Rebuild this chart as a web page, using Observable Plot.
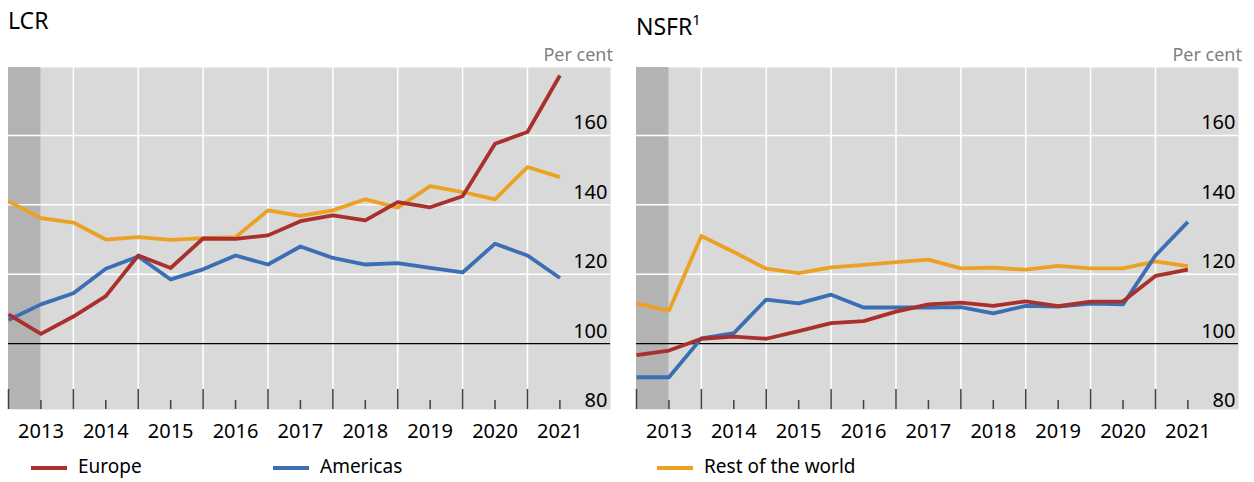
<!DOCTYPE html>
<html><head><meta charset="utf-8">
<script src="https://cdn.jsdelivr.net/npm/d3@7"></script>
<script src="https://cdn.jsdelivr.net/npm/@observablehq/plot@0.6"></script>
<style>
body{margin:0;background:#fff;font-family:"Noto Sans",sans-serif;}
#wrap{position:relative;width:1254px;height:482px;overflow:hidden;background:#fff}
.abs{position:absolute;white-space:nowrap}
.title{font-size:23px;line-height:23px;color:#000;top:8.6px}
.title sup{font-size:15px;position:relative;top:-1px}
.unit{font-size:18px;line-height:18px;color:#7f7f7f;top:44.5px;text-align:right}
.leg{font-size:19px;line-height:19px;color:#000;top:457px}
.sw{position:absolute;height:4px;width:36px;top:466px}
</style></head><body>
<div id="wrap"></div>
<script>
// ---- data ----
const periods = [2012.5, 2013, 2013.5, 2014, 2014.5, 2015, 2015.5, 2016, 2016.5, 2017, 2017.5, 2018, 2018.5, 2019, 2019.5, 2020, 2020.5, 2021];
const seriesNames = ["Rest of the world", "Americas", "Europe"];
const seriesColors = ["#eba224", "#3c6eb4", "#a9302c"];

const lcrEurope   = [108.4,102.8,107.8,113.7,125.4,121.8,130.3,130.2,131.2,135.3,137.0,135.5,140.8,139.3,142.5,157.6,161.0,177.3];
const lcrAmericas = [106.8,111.3,114.5,121.6,125.1,118.5,121.4,125.4,122.8,128.0,124.7,122.8,123.2,121.8,120.5,128.8,125.4,118.9];
const lcrRest     = [141.0,136.2,134.9,130.0,130.7,129.9,130.4,130.7,138.4,136.8,138.4,141.6,139.2,145.4,143.7,141.6,150.9,148.0];

const nsfrEurope   = [96.7,98.0,101.4,102.0,101.4,103.6,105.9,106.5,109.2,111.3,111.8,110.9,112.2,110.8,112.1,112.2,119.5,121.3];
const nsfrAmericas = [90.3,90.3,101.5,103.0,112.7,111.6,114.1,110.4,110.4,110.4,110.5,108.7,110.9,110.7,111.5,111.3,125.4,135.1];
const nsfrRest     = [111.5,109.5,131.0,126.4,121.6,120.3,122.0,122.7,123.5,124.2,121.7,121.9,121.3,122.4,121.7,121.7,123.7,122.3];

const yearTicks = [2013, 2014, 2015, 2016, 2017, 2018, 2019, 2020, 2021];
const midYearTicks = [2012.5, 2013.5, 2014.5, 2015.5, 2016.5, 2017.5, 2018.5, 2019.5, 2020.5];
const gridX = [2013.5, 2014.5, 2015.5, 2016.5, 2017.5, 2018.5, 2019.5, 2020.5];
const yTicks = [80, 100, 120, 140, 160];
const gridY = [120, 140, 160];
const baseline = [100];
const shaded = [{start: 2012.5, end: 2013}];

// ---- build ----
function table(rest, am, eu) {
  const rows = [];
  [[seriesNames[0], rest], [seriesNames[1], am], [seriesNames[2], eu]].forEach(([name, vals]) => {
    vals.forEach((v, i) => rows.push({series: name, period: periods[i], value: v}));
  });
  return rows;
}

function panel(rows, width, marginRight) {
  const plotH = 409 - 67;
  return Plot.plot({
    width, height: 450,
    marginLeft: 8, marginRight, marginTop: 67, marginBottom: 41,
    style: {fontFamily: "'Noto Sans', sans-serif", background: "transparent", overflow: "visible"},
    x: {type: "linear", domain: [2012.5, 2021.78]},
    y: {domain: [81, 179.6]},
    color: {domain: seriesNames, range: seriesColors},
    marks: [
      Plot.frame({fill: "#d9d9d9", stroke: null}),
      Plot.rect(shaded, {x1: "start", x2: "end", fill: "#b3b3b3"}),
      Plot.ruleX(gridX, {stroke: "#ffffff", strokeWidth: 1.5}),
      Plot.ruleY(gridY, {stroke: "#ffffff", strokeWidth: 1.5}),
      Plot.ruleY(baseline, {stroke: "#000000", strokeWidth: 1.3}),
      Plot.tickX(midYearTicks, {x: d => d, stroke: "#404040", strokeWidth: 1.5, insetTop: plotH - 20}),
      Plot.tickX(yearTicks, {x: d => d, stroke: "#404040", strokeWidth: 1.5, insetTop: plotH - 9}),
      Plot.line(rows, {x: "period", y: "value", z: "series", stroke: "series", strokeWidth: 3.8, strokeLinejoin: "round", strokeLinecap: "butt"}),
      Plot.axisY(yTicks, {anchor: "right", tickSize: 0, tickPadding: 0, dx: -3, dy: -12.5, textAnchor: "end", fontSize: 20, fill: "#000", label: null}),
      Plot.axisX(yearTicks, {anchor: "bottom", tickSize: 0, tickPadding: 14, fontSize: 20, fill: "#000", tickFormat: d => String(d), label: null})
    ]
  });
}

const wrap = document.getElementById("wrap");
const left = panel(table(lcrRest, lcrAmericas, lcrEurope), 627, 17);
left.style.position = "absolute"; left.style.left = "0px"; left.style.top = "0px";
wrap.appendChild(left);
const right = panel(table(nsfrRest, nsfrAmericas, nsfrEurope), 626, 16);
right.style.position = "absolute"; right.style.left = "628px"; right.style.top = "0px";
wrap.appendChild(right);

function addDiv(cls, html, style) {
  const d = document.createElement("div");
  d.className = "abs " + cls; d.innerHTML = html;
  Object.assign(d.style, style);
  wrap.appendChild(d); return d;
}
addDiv("title", "LCR", {left: "8px"});
addDiv("title", "NSFR<sup>1</sup>", {left: "636px"});
addDiv("unit", "Per cent", {right: (1254 - 613) + "px"});
addDiv("unit", "Per cent", {right: (1254 - 1242) + "px"});

const legendPos = [
  {name: "Europe", color: seriesColors[2], x: 31},
  {name: "Americas", color: seriesColors[1], x: 273},
  {name: "Rest of the world", color: seriesColors[0], x: 657}
];
legendPos.forEach(l => {
  addDiv("sw", "", {left: l.x + "px", background: l.color});
  addDiv("leg", l.name, {left: (l.x + 47) + "px"});
});
</script>
</body></html>
